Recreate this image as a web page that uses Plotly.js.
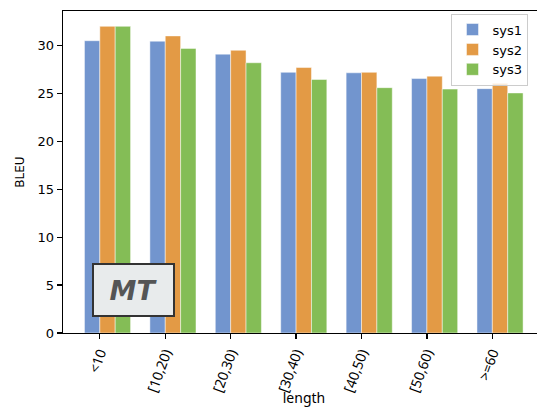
<!DOCTYPE html>
<html>
<head>
<meta charset="utf-8">
<script src="https://cdn.plot.ly/plotly-3.0.1.min.js"></script>
<style>html,body{margin:0;padding:0;background:#fff;overflow:hidden;}#chart{width:545px;height:407px;}</style>
</head>
<body>
<div id="chart"></div>
<script>
const categories = ["<10", "[10,20)", "[20,30)", "[30,40)", "[40,50)", "[50,60)", ">=60"];
const sys1 = [30.5, 30.45, 29.1, 27.2, 27.15, 26.55, 25.5];
const sys2 = [32.0, 31.0, 29.5, 27.7, 27.2, 26.8, 26.05];
const sys3 = [32.0, 29.7, 28.2, 26.45, 25.6, 25.45, 25.05];
const seriesNames = ["sys1", "sys2", "sys3"];
const colors = ["#7295ce", "#e39a45", "#84bd56"];

const w = 0.235;
const seriesData = [sys1, sys2, sys3];
const traces = seriesData.map((vals, i) => ({
  type: "bar",
  name: seriesNames[i],
  x: categories,
  y: vals,
  width: w,
  offset: (i - 1) * w,
  marker: {color: colors[i], line: {color: "rgba(255,255,255,0.6)", width: 0.8}},
  hoverinfo: "x+y+name"
}));

const layout = {
  width: 545,
  height: 407,
  margin: {l: 63, r: 0, t: 11, b: 74, pad: 0},
  paper_bgcolor: "#fff",
  plot_bgcolor: "#fff",
  barmode: "overlay",
  showlegend: true,
  legend: {
    x: 0.806, y: 0.992, xanchor: "left", yanchor: "top",
    bgcolor: "rgba(255,255,255,0.8)", bordercolor: "#cccccc", borderwidth: 1,
    font: {family: "DejaVu Sans", size: 13, color: "#000"},
    tracegroupgap: 0
  },
  xaxis: {
    type: "category",
    categoryorder: "array",
    categoryarray: categories,
    range: [-0.563, 6.805],
    showline: true, linecolor: "#000", linewidth: 1.3, mirror: true,
    ticks: "outside", ticklen: 5, tickwidth: 1.2, tickcolor: "#000",
    tickangle: -70,
    tickfont: {family: "Noto Sans", size: 14, color: "#000"},
    showgrid: false, zeroline: false,
    title: {text: "length", font: {family: "Noto Sans", size: 14, color: "#000"}, standoff: 12}
  },
  yaxis: {
    range: [0, 33.6],
    tickvals: [0, 5, 10, 15, 20, 25, 30],
    showline: true, linecolor: "#000", linewidth: 1.3, mirror: true,
    ticks: "outside", ticklen: 5, tickwidth: 1.2, tickcolor: "#000",
    tickfont: {family: "DejaVu Sans", size: 13, color: "#000"},
    showgrid: false, zeroline: false,
    title: {text: "BLEU", font: {family: "DejaVu Sans", size: 12, color: "#000"}, standoff: 10}
  },
  annotations: [{
    xref: "paper", yref: "paper",
    x: 0.1453, y: 0.135, xanchor: "center", yanchor: "middle",
    text: "<b><i>MT</i></b>",
    showarrow: false,
    font: {family: "DejaVu Sans", size: 27, color: "#555555"},
    bgcolor: "#e8ebec", bordercolor: "#333333", borderwidth: 2, borderpad: 0,
    width: 79, height: 50
  }]
};

Plotly.newPlot("chart", traces, layout, {staticPlot: true, displayModeBar: false});
</script>
</body>
</html>
